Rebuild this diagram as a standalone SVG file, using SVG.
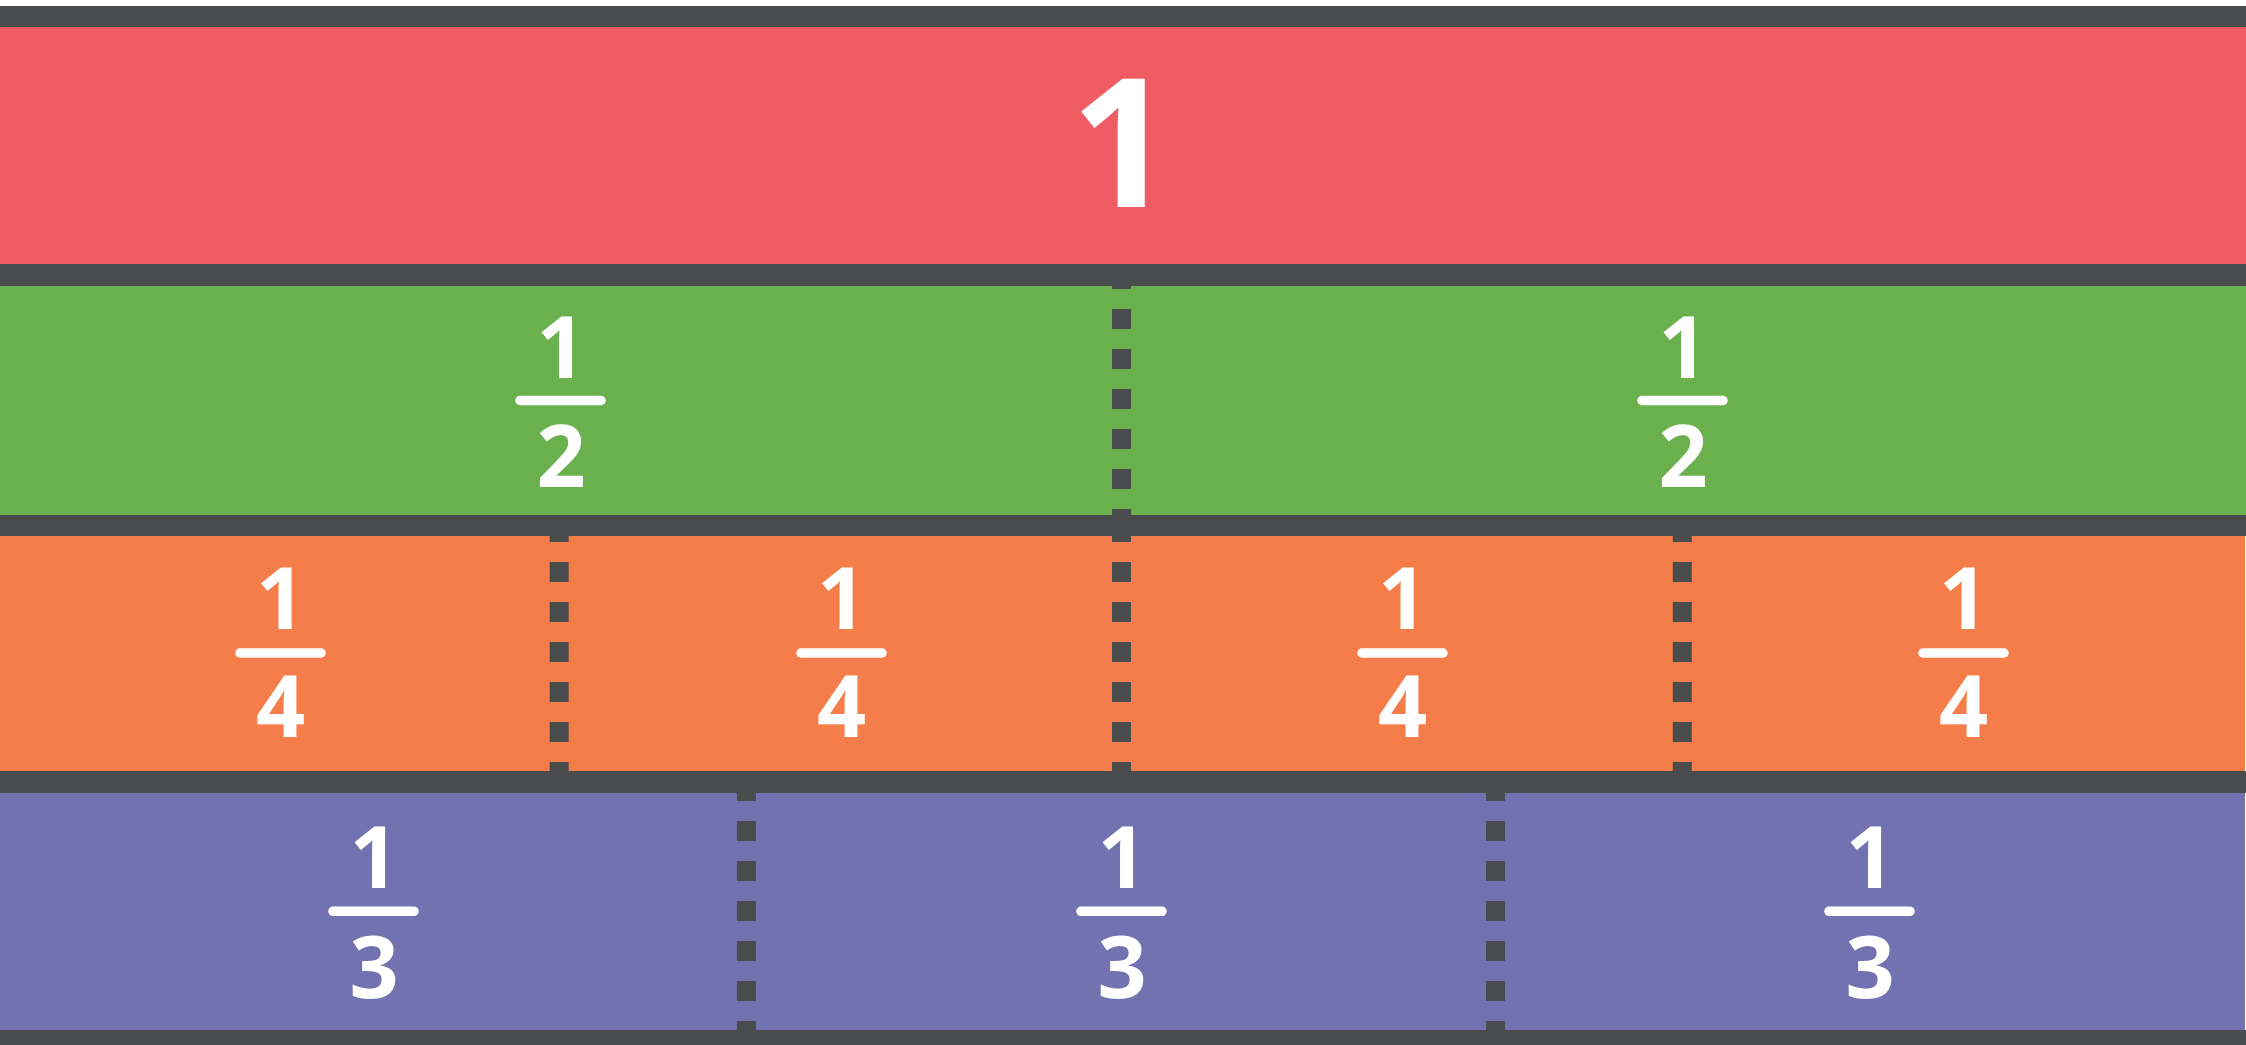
<svg xmlns="http://www.w3.org/2000/svg" width="2246" height="1045" viewBox="0 0 2246 1045">
<style>
.band{fill:#4a4b4d}
.red{fill:#f05c64}
.green{fill:#6ab04d}
.orange{fill:#f57d4a}
.purple{fill:#7372b0}
.dash{stroke:#4a4b4d;stroke-width:19;stroke-dasharray:20 20;fill:none}
.num{font-family:"Open Sans","Noto Sans","Liberation Sans",sans-serif;font-weight:700;fill:#ffffff;text-anchor:middle}
.sm{font-size:86px}
.big{font-size:179px}
.bar{stroke:#ffffff;stroke-width:9.5;stroke-linecap:round}
</style>
<rect x="0" y="0" width="2246" height="1045" fill="#ffffff"/>
<g id="whole">
<rect class="red" x="0" y="27" width="2246" height="237"/>
<text class="num big" x="1122" y="207">1</text>
</g>
<g id="half-1">
<rect class="green" x="0" y="286" width="1122" height="229"/>
<text class="num sm" x="561" y="378">1</text>
<line class="bar" x1="520" y1="400.5" x2="601" y2="400.5"/>
<text class="num sm" x="561" y="487">2</text>
</g>
<g id="half-2">
<rect class="green" x="1122" y="286" width="1124" height="229"/>
<text class="num sm" x="1683" y="378">1</text>
<line class="bar" x1="1642" y1="400.5" x2="1723" y2="400.5"/>
<text class="num sm" x="1683" y="487">2</text>
</g>
<g id="quarter-1">
<rect class="orange" x="0" y="536" width="561" height="235"/>
<text class="num sm" x="280.5" y="629">1</text>
<line class="bar" x1="240" y1="653" x2="321" y2="653"/>
<text class="num sm" x="280.5" y="737">4</text>
</g>
<g id="quarter-2">
<rect class="orange" x="561" y="536" width="561" height="235"/>
<text class="num sm" x="841.5" y="629">1</text>
<line class="bar" x1="801" y1="653" x2="882" y2="653"/>
<text class="num sm" x="841.5" y="737">4</text>
</g>
<g id="quarter-3">
<rect class="orange" x="1122" y="536" width="561" height="235"/>
<text class="num sm" x="1402.5" y="629">1</text>
<line class="bar" x1="1362" y1="653" x2="1443" y2="653"/>
<text class="num sm" x="1402.5" y="737">4</text>
</g>
<g id="quarter-4">
<rect class="orange" x="1683" y="536" width="562" height="235"/>
<text class="num sm" x="1963.5" y="629">1</text>
<line class="bar" x1="1923" y1="653" x2="2004" y2="653"/>
<text class="num sm" x="1963.5" y="737">4</text>
</g>
<g id="third-1">
<rect class="purple" x="0" y="793" width="748" height="237"/>
<text class="num sm" x="374" y="888">1</text>
<line class="bar" x1="333" y1="911.3" x2="414" y2="911.3"/>
<text class="num sm" x="374" y="998">3</text>
</g>
<g id="third-2">
<rect class="purple" x="748" y="793" width="748" height="237"/>
<text class="num sm" x="1122" y="888">1</text>
<line class="bar" x1="1081" y1="911.3" x2="1162" y2="911.3"/>
<text class="num sm" x="1122" y="998">3</text>
</g>
<g id="third-3">
<rect class="purple" x="1496" y="793" width="749" height="237"/>
<text class="num sm" x="1870" y="888">1</text>
<line class="bar" x1="1829" y1="911.3" x2="1910" y2="911.3"/>
<text class="num sm" x="1870" y="998">3</text>
</g>
<g id="connectors">
<line class="dash" x1="1121.5" y1="269" x2="1121.5" y2="529"/>
<line class="dash" x1="559.2" y1="522" x2="559.2" y2="783"/>
<line class="dash" x1="1121.5" y1="522" x2="1121.5" y2="783"/>
<line class="dash" x1="1682.3" y1="522" x2="1682.3" y2="783"/>
<line class="dash" x1="746.4" y1="781" x2="746.4" y2="1041"/>
<line class="dash" x1="1495.5" y1="781" x2="1495.5" y2="1041"/>
<rect class="band" x="0" y="6" width="2246" height="21"/>
<rect class="band" x="0" y="264" width="2246" height="22"/>
<rect class="band" x="0" y="515" width="2246" height="21"/>
<rect class="band" x="0" y="771" width="2246" height="22"/>
<rect class="band" x="0" y="1030" width="2246" height="15"/>
</g>
</svg>
